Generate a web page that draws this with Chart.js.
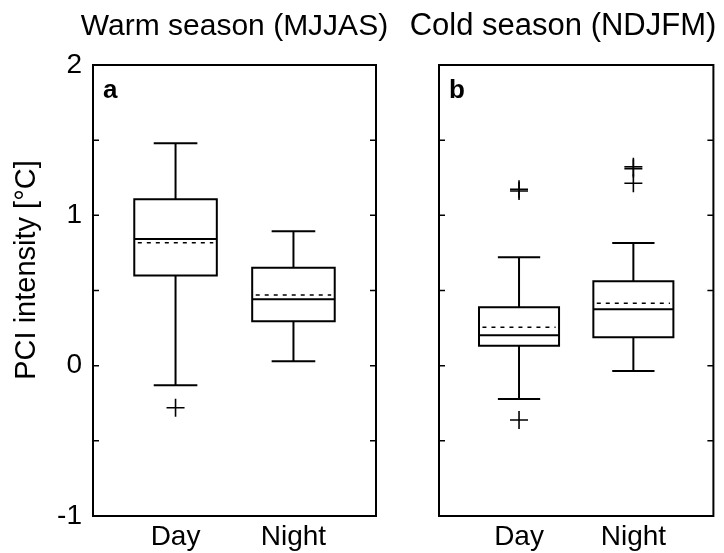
<!DOCTYPE html>
<html>
<head>
<meta charset="utf-8">
<title>PCI intensity box plots</title>
<script src="https://cdn.jsdelivr.net/npm/chart.js@4.4.1/dist/chart.umd.min.js"></script>
<style>
    body { margin: 0; background: #fff; }
    #wrap { position: relative; width: 724px; height: 553px; }
    canvas { position: absolute; top: 0; }
</style>
</head>
<body>
<div id="wrap">
    <canvas id="chart-a" width="400" height="553" style="left:0px"></canvas>
    <canvas id="chart-b" width="324" height="553" style="left:400px"></canvas>
</div>
<script>
const categories = ['Day', 'Night'];
const yLabels = [-1, 0, 1, 2];

// Warm season (MJJAS), panel a
const warmLower = [-0.13, 0.03];
const warmQ1 = [0.60, 0.295];
const warmMedian = [0.843, 0.441];
const warmMean = [0.818, 0.470];
const warmQ3 = [1.107, 0.652];
const warmUpper = [1.479, 0.894];
const warmOutliers = [[-0.28], []];

// Cold season (NDJFM), panel b
const coldLower = [-0.222, -0.035];
const coldQ1 = [0.133, 0.189];
const coldMedian = [0.202, 0.375];
const coldMean = [0.255, 0.415];
const coldQ3 = [0.388, 0.561];
const coldUpper = [0.721, 0.816];
const coldOutliers = [[-0.361, 1.174, 1.162], [1.323, 1.311, 1.213]];

const FONT = '"Liberation Sans", Arial, Helvetica, sans-serif';
const BOX_W = 0.70;  // box width in x units
const CAP_W = 0.37;  // whisker cap width

Chart.defaults.color = '#000';
Chart.defaults.font.family = FONT;

function seg(points, width, dash, cap) {
    return {
        data: points,
        showLine: true,
        borderColor: '#000',
        borderWidth: width,
        borderDash: dash || [],
        borderCapStyle: cap || 'butt',
        pointRadius: 0,
        fill: false,
    };
}

function boxDatasets(lower, q1, med, mean, q3, upper, outliers) {
    const sets = [];
    categories.forEach((name, i) => {
        const c = i + 1;
        const l = c - BOX_W / 2, r = c + BOX_W / 2;
        // box outline
        sets.push(seg([
            { x: l, y: q1[i] }, { x: r, y: q1[i] }, { x: r, y: q3[i] },
            { x: l, y: q3[i] }, { x: l, y: q1[i] }
        ], 2, null, 'square'));
        // median and mean
        sets.push(seg([{ x: l, y: med[i] }, { x: r, y: med[i] }], 2));
        sets.push(seg([{ x: l + 0.03, y: mean[i] }, { x: r - 0.03, y: mean[i] }], 1.5, [4, 5]));
        // whiskers
        sets.push(seg([{ x: c, y: q3[i] }, { x: c, y: upper[i] }], 2));
        sets.push(seg([{ x: c, y: q1[i] }, { x: c, y: lower[i] }], 2));
        sets.push(seg([{ x: c - CAP_W / 2, y: upper[i] }, { x: c + CAP_W / 2, y: upper[i] }], 2));
        sets.push(seg([{ x: c - CAP_W / 2, y: lower[i] }, { x: c + CAP_W / 2, y: lower[i] }], 2));
        // outliers
        sets.push({
            data: outliers[i].map(v => ({ x: c, y: v })),
            showLine: false,
            pointStyle: 'cross',
            pointRadius: 9,
            pointBorderWidth: 1.6,
            pointBorderColor: '#000',
            borderColor: '#000',
        });
    });
    return sets;
}

const framePlugin = {
    id: 'frame',
    afterDatasetsDraw(chart, args, opts) {
        const { ctx, chartArea: a, scales: { y } } = chart;
        ctx.save();
        ctx.strokeStyle = '#000';
        ctx.lineWidth = 2;
        ctx.strokeRect(a.left, a.top, a.right - a.left, a.bottom - a.top);
        ctx.lineWidth = 1.5;
        y.ticks.forEach(t => {
            const py = y.getPixelForValue(t.value);
            ctx.beginPath();
            ctx.moveTo(a.left, py);
            ctx.lineTo(a.left + 6, py);
            ctx.moveTo(a.right - 6, py);
            ctx.lineTo(a.right, py);
            ctx.stroke();
        });
        ctx.fillStyle = '#000';
        ctx.font = 'bold 26px ' + FONT;
        ctx.textBaseline = 'alphabetic';
        ctx.fillText(opts.letter, a.left + 10, a.top + 33);

        // panel title
        ctx.font = opts.titleSize + 'px ' + FONT;
        ctx.textAlign = 'center';
        const tx = opts.titleOnArea ? (a.left + a.right) / 2 : chart.width / 2 + 1;
        ctx.fillText(opts.title, tx, 35);

        // y axis title, sits a little above the middle as in the original
        if (opts.yTitle) {
            ctx.font = '29px ' + FONT;
            ctx.translate(27, 270);
            ctx.rotate(-Math.PI / 2);
            ctx.textBaseline = 'middle';
            ctx.fillText(opts.yTitle, 0, 0);
        }
        ctx.restore();
    }
};

function makeChart(id, cfg) {
    return new Chart(document.getElementById(id).getContext('2d'), {
        type: 'scatter',
        data: { datasets: cfg.datasets },
        options: {
            responsive: false,
            animation: false,
            events: [],
            layout: { padding: { left: 0, right: cfg.padRight, top: 65, bottom: 0 } },
            plugins: {
                legend: { display: false },
                tooltip: { enabled: false },
                title: { display: false },
                frame: {
                    letter: cfg.letter,
                    title: cfg.title,
                    titleSize: cfg.titleSize,
                    titleOnArea: cfg.titleOnArea,
                    yTitle: cfg.yTitle,
                },
            },
            scales: {
                x: {
                    type: 'linear',
                    min: 0.3,
                    max: 2.7,
                    grid: { display: false, drawTicks: false },
                    border: { display: false },
                    afterBuildTicks: s => { s.ticks = categories.map((c, i) => ({ value: i + 1 })); },
                    afterFit: s => { s.height = 37; },
                    ticks: {
                        autoSkip: false,
                        maxRotation: 0,
                        padding: 4,
                        font: { size: 28 },
                        callback: v => categories[Math.round(v) - 1],
                    },
                },
                y: {
                    min: -1,
                    max: 2,
                    grid: { display: false, drawTicks: false },
                    border: { display: false },
                    afterFit: s => { s.width = cfg.yWidth; },
                    ticks: {
                        stepSize: 0.5,
                        padding: 11,
                        font: { size: 28 },
                        callback: v => (cfg.showY && yLabels.includes(v)) ? String(v) : '',
                    },
                },
            },
        },
        plugins: [framePlugin],
    });
}

window.onload = function () {
    makeChart('chart-a', {
        datasets: boxDatasets(warmLower, warmQ1, warmMedian, warmMean, warmQ3, warmUpper, warmOutliers),
        title: 'Warm season (MJJAS)',
        titleSize: 30,
        titleOnArea: true,
        letter: 'a',
        padRight: 24,
        yWidth: 93,
        showY: true,
        yTitle: 'PCI intensity [°C]',
    });
    makeChart('chart-b', {
        datasets: boxDatasets(coldLower, coldQ1, coldMedian, coldMean, coldQ3, coldUpper, coldOutliers),
        title: 'Cold season (NDJFM)',
        titleSize: 31,
        titleOnArea: false,
        letter: 'b',
        padRight: 4,
        yWidth: 39,
        showY: false,
        yTitle: '',
    });
};
</script>
</body>
</html>
